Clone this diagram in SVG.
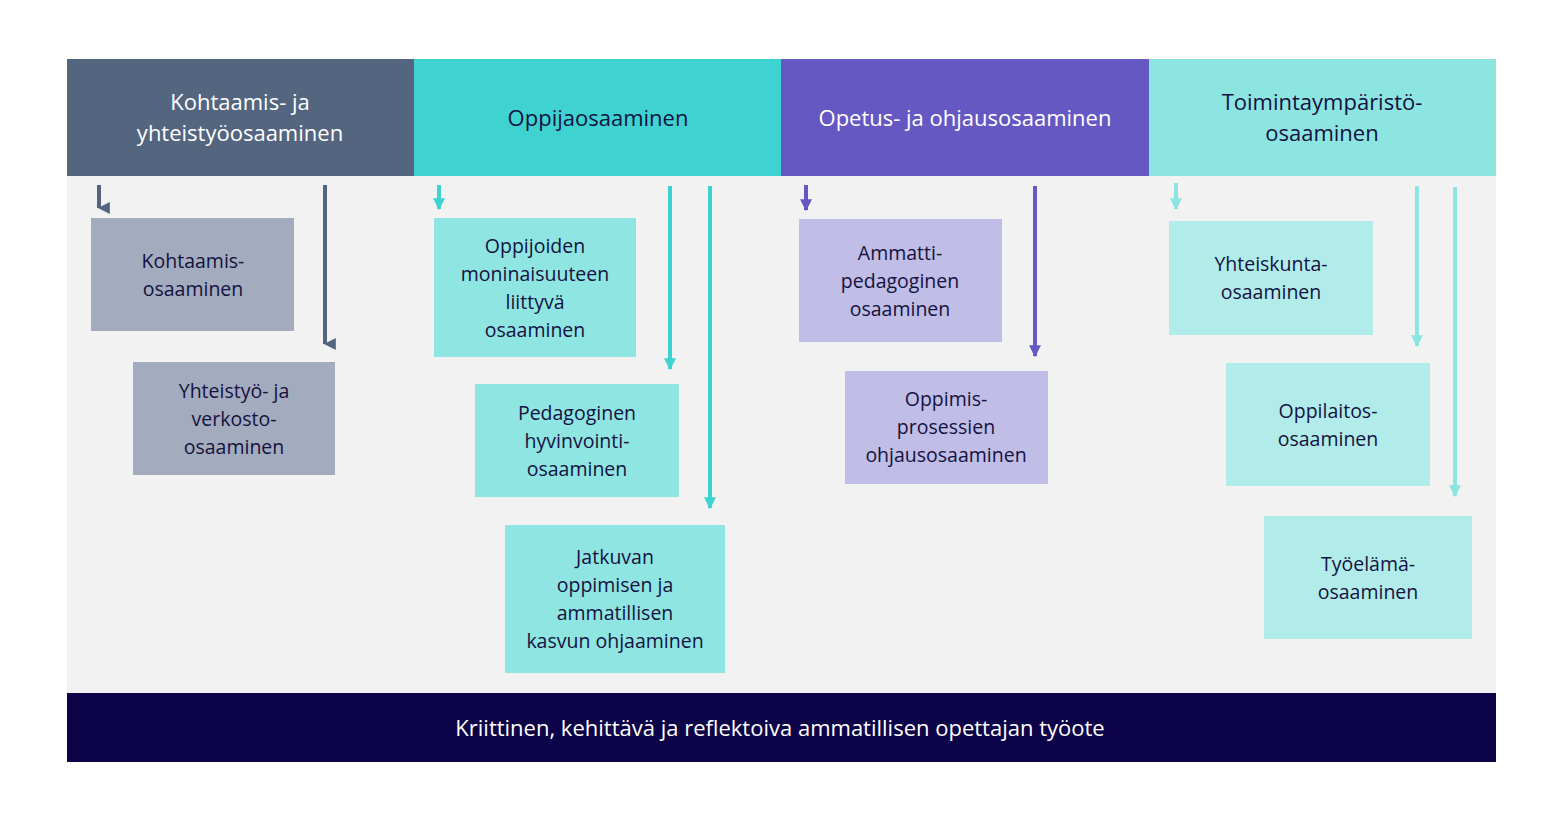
<svg xmlns="http://www.w3.org/2000/svg" width="1564" height="816" viewBox="0 0 1564 816">
<style>
text{font-family:"Open Sans","Liberation Sans",sans-serif;text-anchor:middle}
.h{font-size:22px}
.b{font-size:19.5px;fill:#14123f}
.w{fill:#fff}
.d{fill:#14123f}
.c1{fill:#a3abbe}.c2{fill:#8fe5e2}.c3{fill:#c0bde6}.c4{fill:#b1ecea}
</style>
<defs>
<marker id="m1" viewBox="0 0 10 10" refX="5" refY="9" markerWidth="3" markerHeight="3" orient="auto-start-reverse"><path d="M0,0 L10,0 L5,10 Z" fill="#53657f"/></marker>
<marker id="m2" viewBox="0 0 10 10" refX="5" refY="9" markerWidth="3" markerHeight="3"><path d="M0,0 L10,0 L5,10 Z" fill="#3ed3d1"/></marker>
<marker id="m3" viewBox="0 0 10 10" refX="5" refY="9" markerWidth="3" markerHeight="3"><path d="M0,0 L10,0 L5,10 Z" fill="#6558c2"/></marker>
<marker id="m4" viewBox="0 0 10 10" refX="5" refY="9" markerWidth="3" markerHeight="3"><path d="M0,0 L10,0 L5,10 Z" fill="#8de5e2"/></marker>
</defs>
<rect width="1564" height="816" fill="#fff"/>
<rect x="67" y="176" width="1429" height="517" fill="#f2f2f2"/>
<g id="h1"><rect x="67" y="59" width="347" height="117" fill="#53657f"/><text class="h w" x="240" y="110">Kohtaamis- ja</text><text class="h w" x="240" y="141">yhteistyöosaaminen</text></g>
<g id="h2"><rect x="414" y="59" width="367" height="117" fill="#3ed3d1"/><text class="h d" x="598" y="126">Oppijaosaaminen</text></g>
<g id="h3"><rect x="781" y="59" width="368" height="117" fill="#6558c2"/><text class="h w" x="965" y="126">Opetus- ja ohjausosaaminen</text></g>
<g id="h4"><rect x="1149" y="59" width="347" height="117" fill="#8de5e2"/><text class="h d" x="1322" y="110">Toimintaympäristö-</text><text class="h d" x="1322" y="141">osaaminen</text></g>
<g id="n1"><rect class="c1" x="91" y="218" width="203" height="113"/><text class="b" x="193" y="268">Kohtaamis-</text><text class="b" x="193" y="296">osaaminen</text></g>
<g id="n2"><rect class="c1" x="133" y="362" width="202" height="113"/><text class="b" x="234" y="398">Yhteistyö- ja</text><text class="b" x="234" y="426">verkosto-</text><text class="b" x="234" y="454">osaaminen</text></g>
<g id="n3"><rect class="c2" x="434" y="218" width="202" height="139"/><text class="b" x="535" y="253">Oppijoiden</text><text class="b" x="535" y="281">moninaisuuteen</text><text class="b" x="535" y="309">liittyvä</text><text class="b" x="535" y="337">osaaminen</text></g>
<g id="n4"><rect class="c2" x="475" y="384" width="204" height="113"/><text class="b" x="577" y="420">Pedagoginen</text><text class="b" x="577" y="448">hyvinvointi-</text><text class="b" x="577" y="476">osaaminen</text></g>
<g id="n5"><rect class="c2" x="505" y="525" width="220" height="148"/><text class="b" x="615" y="564">Jatkuvan</text><text class="b" x="615" y="592">oppimisen ja</text><text class="b" x="615" y="620">ammatillisen</text><text class="b" x="615" y="648">kasvun ohjaaminen</text></g>
<g id="n6"><rect class="c3" x="799" y="219" width="203" height="123"/><text class="b" x="900" y="260">Ammatti-</text><text class="b" x="900" y="288">pedagoginen</text><text class="b" x="900" y="316">osaaminen</text></g>
<g id="n7"><rect class="c3" x="845" y="371" width="203" height="113"/><text class="b" x="946" y="406">Oppimis-</text><text class="b" x="946" y="434">prosessien</text><text class="b" x="946" y="462">ohjausosaaminen</text></g>
<g id="n8"><rect class="c4" x="1169" y="221" width="204" height="114"/><text class="b" x="1271" y="271">Yhteiskunta-</text><text class="b" x="1271" y="299">osaaminen</text></g>
<g id="n9"><rect class="c4" x="1226" y="363" width="204" height="123"/><text class="b" x="1328" y="418">Oppilaitos-</text><text class="b" x="1328" y="446">osaaminen</text></g>
<g id="n10"><rect class="c4" x="1264" y="516" width="208" height="123"/><text class="b" x="1368" y="571">Työelämä-</text><text class="b" x="1368" y="599">osaaminen</text></g>
<g id="bottom"><rect x="67" y="693" width="1429" height="69" fill="#0d0348"/><text class="h w" x="780" y="736">Kriittinen, kehittävä ja reflektoiva ammatillisen opettajan työote</text></g>
<g id="connectors" stroke-width="4" fill="none">
<path d="M99,185V208" stroke="#53657f" marker-end="url(#m1)"/>
<path d="M325,185V344" stroke="#53657f" marker-end="url(#m1)"/>
<path d="M439,185V209" stroke="#3ed3d1" marker-end="url(#m2)"/>
<path d="M670,186V369" stroke="#3ed3d1" marker-end="url(#m2)"/>
<path d="M710,186V508" stroke="#3ed3d1" marker-end="url(#m2)"/>
<path d="M806,185V210" stroke="#6558c2" marker-end="url(#m3)"/>
<path d="M1035,186V356" stroke="#6558c2" marker-end="url(#m3)"/>
<path d="M1176,183V209" stroke="#8de5e2" marker-end="url(#m4)"/>
<path d="M1417,186V346" stroke="#8de5e2" marker-end="url(#m4)"/>
<path d="M1455,187V496" stroke="#8de5e2" marker-end="url(#m4)"/>
</g>
</svg>
